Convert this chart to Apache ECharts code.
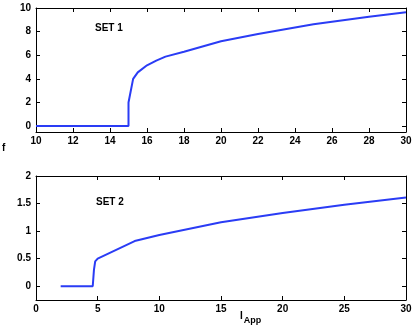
<!DOCTYPE html>
<html><head><meta charset="utf-8">
<script src="https://cdn.jsdelivr.net/npm/echarts@6/dist/echarts.min.js"></script>
<style>html,body{margin:0;padding:0;background:#fff}#c{width:415px;height:328px}</style>
</head><body><div id="c"></div>
<script>
// Data
const set1X = [10, 15, 15, 15.25, 15.5, 16, 16.5, 17, 18, 20, 22, 25, 28, 30];
const set1Y = [0, 0, 2, 4, 4.55, 5.15, 5.55, 5.88, 6.3, 7.18, 7.8, 8.62, 9.25, 9.65];
const set2X = [2, 4.6, 4.7, 4.8, 5, 8, 10, 15, 20, 25, 30];
const set2Y = [0, 0, 0.3, 0.45, 0.5, 0.82, 0.93, 1.16, 1.33, 1.48, 1.61];
const ticks1Y = [0, 2, 4, 6, 8, 10];
const ticks2Y = [0, 0.5, 1, 1.5, 2];

const font = {fontFamily: 'Liberation Sans, Arial', fontWeight: 'bold', fontSize: 10, color: '#000'};
const lineBlack = {show: true, onZero: false, lineStyle: {color: '#000', width: 1}};

function xAx(gi, min, max, interval, pos, labels) {
  return {type: 'value', gridIndex: gi, min, max, interval, position: pos,
    axisLine: lineBlack, splitLine: {show: false},
    axisTick: {show: true, inside: true, length: 4, lineStyle: {color: '#000'}},
    axisLabel: Object.assign({show: labels, margin: 4, hideOverlap: false, showMinLabel: true, showMaxLabel: true}, font)};
}
function yAx(gi, min, max, vals, pos, labels) {
  return {type: 'value', gridIndex: gi, min, max, position: pos,
    axisLine: lineBlack, splitLine: {show: false},
    axisTick: {show: true, inside: true, length: 4, customValues: vals, lineStyle: {color: '#000'}},
    axisLabel: Object.assign({show: labels, margin: 5, customValues: vals, hideOverlap: false}, font)};
}

const chart = echarts.init(document.getElementById('c'));
chart.setOption({
  animation: false,
  backgroundColor: '#fff',
  grid: [
    {left: 36, top: 8, width: 370, height: 124},
    {left: 36, top: 176, width: 370, height: 124}
  ],
  xAxis: [
    xAx(0, 10, 30, 2, 'bottom', true),
    xAx(0, 10, 30, 2, 'top', false),
    xAx(1, 0, 30, 5, 'bottom', true),
    xAx(1, 0, 30, 5, 'top', false)
  ],
  yAxis: [
    yAx(0, -0.5, 10, ticks1Y, 'left', true),
    yAx(0, -0.5, 10, ticks1Y, 'right', false),
    yAx(1, -0.25, 2, ticks2Y, 'left', true),
    yAx(1, -0.25, 2, ticks2Y, 'right', false)
  ],
  series: [
    {type: 'line', xAxisIndex: 0, yAxisIndex: 0, symbol: 'none',
      lineStyle: {color: '#2a3cf5', width: 2}, data: set1X.map((x, i) => [x, set1Y[i]])},
    {type: 'line', xAxisIndex: 2, yAxisIndex: 2, symbol: 'none',
      lineStyle: {color: '#2a3cf5', width: 2}, data: set2X.map((x, i) => [x, set2Y[i]])}
  ],
  graphic: [
    {type: 'text', left: 95, top: 23, style: Object.assign({text: 'SET 1'}, font, {fill: '#000'})},
    {type: 'text', left: 96, top: 197, style: Object.assign({text: 'SET 2'}, font, {fill: '#000'})},
    {type: 'text', left: 2, top: 143, style: Object.assign({text: 'f'}, font, {fill: '#000'})},
    {type: 'text', left: 240, top: 311, style: {
      text: '{a|I}{b|App}', rich: {
        a: {fontFamily: 'Liberation Sans, Arial', fontWeight: 'bold', fontSize: 10, fill: '#000'},
        b: {fontFamily: 'Liberation Sans, Arial', fontWeight: 'bold', fontSize: 9, fill: '#000', padding: [9, 0, 0, 1]}
      }}}
  ]
});
</script></body></html>
